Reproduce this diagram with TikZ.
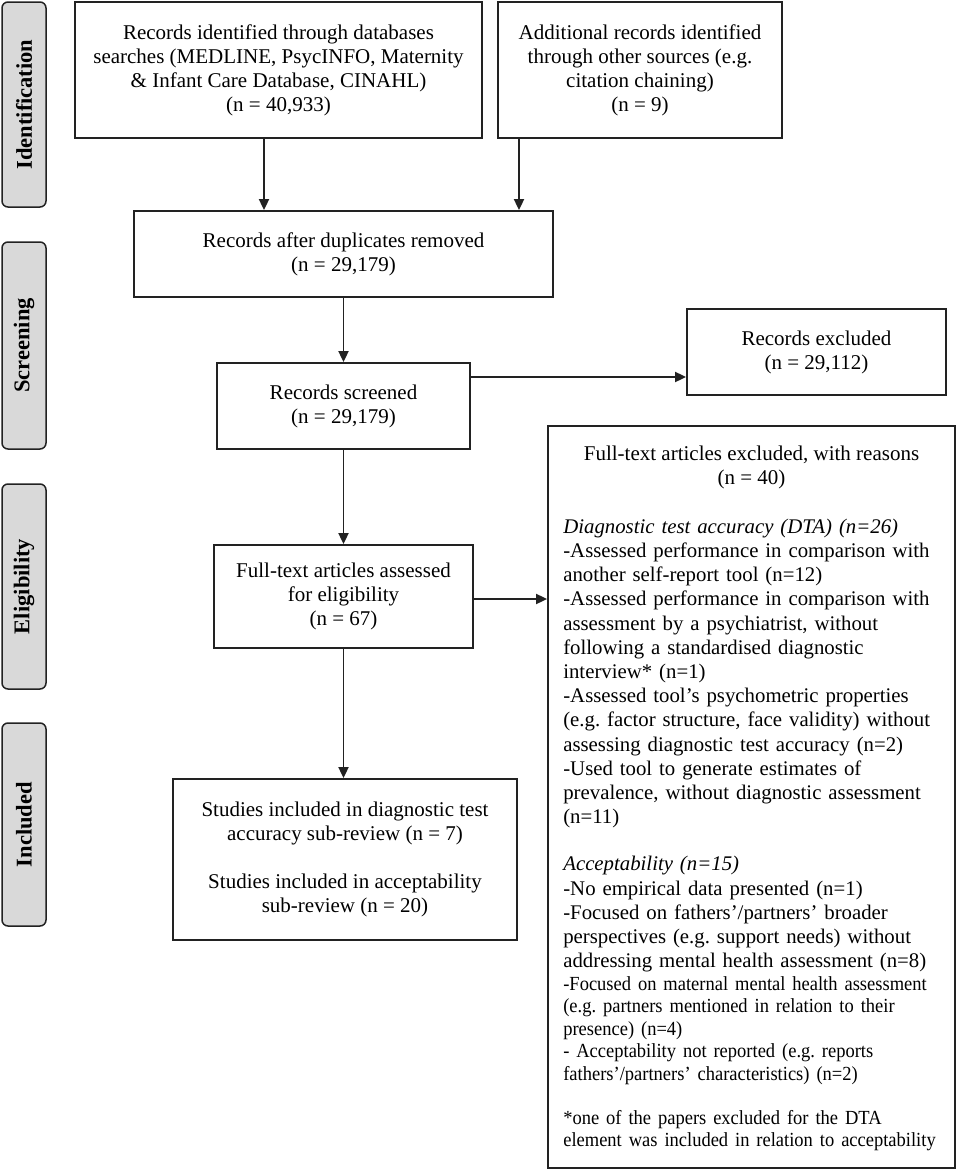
\documentclass[tikz,border=0pt]{standalone}
\usepackage{fontspec}
\setmainfont{Liberation Serif}
\newfontfamily\condfont[FakeStretch=0.925]{Liberation Serif}
\usetikzlibrary{arrows.meta,calc}
\definecolor{linecol}{HTML}{222222}
\definecolor{tabgray}{HTML}{D9D9D9}
\frenchspacing
\begin{document}
\begin{tikzpicture}[x=1pt,y=-1pt,
  box/.style={draw=linecol, line width=1.8pt, fill=white, align=center, inner sep=0pt,
              font=\fontsize{21}{24}\selectfont},
  tab/.style={draw=linecol, line width=1.5pt, fill=tabgray, rounded corners=6pt, rotate=90,
              minimum height=44pt, inner sep=0pt, font=\fontsize{22.5}{26}\selectfont\bfseries},
  arr/.style={draw=linecol, line width=1.8pt, -{Triangle[length=11pt,width=10pt]}},
  plain/.style={inner sep=0pt}
]
\useasboundingbox (0,0) rectangle (957,1173);

% phase tabs
\node[tab, minimum width=205pt] (tabid) at (24,104.5) {Identification};
\node[tab, minimum width=207pt] (tabsc) at (24,345.5) {Screening};
\node[tab, minimum width=205pt] (tabel) at (24,586.5) {Eligibility};
\node[tab, minimum width=203pt] (tabin) at (24,824.5) {Included};

% boxes
\node[box, minimum width=407pt, minimum height=136pt] (rec1) at (278.5,70)
  {Records identified through databases\\searches (MEDLINE, PsycINFO, Maternity\\\& Infant Care Database, CINAHL)\\(n = 40,933)};
\node[box, minimum width=284pt, minimum height=136pt] (rec2) at (640,70)
  {Additional records identified\\through other sources (e.g.\\citation chaining)\\(n = 9)};
\node[box, minimum width=419pt, minimum height=86pt] (dedup) at (343.5,254)
  {Records after duplicates removed\\(n = 29,179)};
\node[box, minimum width=253pt, minimum height=86pt] (screened) at (343.5,406)
  {Records screened\\(n = 29,179)};
\node[box, minimum width=259pt, minimum height=86pt] (excl1) at (816.5,352)
  {Records excluded\\(n = 29,112)};
\node[box, minimum width=259pt, minimum height=103pt] (fulltext) at (343.5,596.5)
  {Full-text articles assessed\\for eligibility\\(n = 67)};
\node[box, minimum width=344pt, minimum height=161pt] (included) at (345,859.5)
  {Studies included in diagnostic test\\accuracy sub-review (n = 7)\\[24pt]Studies included in acceptability\\sub-review (n = 20)};
\node[box, minimum width=407pt, minimum height=742pt] (excl2) at (751.5,797) {};

\node[plain, anchor=north, align=center, font=\fontsize{21}{24}\selectfont] (excl2title)
  at ([yshift=-20.5pt]excl2.north)
  {Full-text articles excluded, with reasons\\(n = 40)};
\node[plain, anchor=north west, text width=382pt, align=left, font=\fontsize{20.8}{24.2}\selectfont] (excl2body)
  at ([xshift=16pt,yshift=-93.5pt]excl2.north west)
  {\textit{Diagnostic test accuracy (DTA) (n=26)}\\
   -Assessed performance in comparison with\\
   another self-report tool (n=12)\\
   -Assessed performance in comparison with\\
   assessment by a psychiatrist, without\\
   following a standardised diagnostic\\
   interview* (n=1)\\
   -Assessed tool’s psychometric properties\\
   (e.g. factor structure, face validity) without\\
   assessing diagnostic test accuracy (n=2)\\
   -Used tool to generate estimates of\\
   prevalence, without diagnostic assessment\\
   (n=11)\par
   \vspace{23pt}
   \textit{Acceptability (n=15)}\\
   -No empirical data presented (n=1)\\
   -Focused on fathers’/partners’ broader\\
   perspectives (e.g. support needs) without\\
   addressing mental health assessment (n=8)\par
   {\condfont\fontsize{20}{22.5}\selectfont -Focused on maternal mental health assessment\\
   (e.g. partners mentioned in relation to their\\
   presence) (n=4)\\
   - Acceptability not reported (e.g. reports\\
   fathers’/partners’ characteristics) (n=2)\par
   \vspace{21.5pt}
   *one of the papers excluded for the DTA\\
   element was included in relation to acceptability\par}};

% connectors
\coordinate (a1) at ([xshift=-14.5pt]rec1.south);
\coordinate (a2) at ([xshift=-121pt]rec2.south);
\draw[arr] (a1) -- (a1 |- dedup.north);
\draw[arr] (a2) -- (a2 |- dedup.north);
\draw[arr] (dedup.south) -- (screened.north);
\draw[arr] (screened.south) -- (fulltext.north);
\draw[arr] (fulltext.south) -- (fulltext.south |- included.north);
\coordinate (b1) at ([yshift=29pt]screened.east);
\draw[arr] (b1) -- (b1 -| excl1.west);
\coordinate (b2) at ([yshift=-2.5pt]fulltext.east);
\draw[arr] (b2) -- (b2 -| excl2.west);
\end{tikzpicture}
\end{document}
